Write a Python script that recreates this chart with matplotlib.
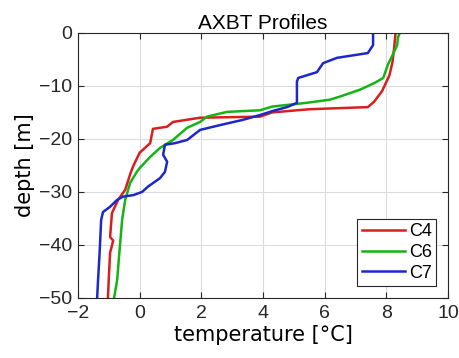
import matplotlib
matplotlib.use("Agg")
import matplotlib.pyplot as plt

plt.rcParams['font.family'] = ['Liberation Sans', 'DejaVu Sans']

# AXBT temperature profiles: (temperature degC, depth m)
c4_temp = [8.3, 8.25, 8.2, 8.1, 7.86, 7.6, 7.4, 5.5, 4.3, 3.9, 1.96, 1.08, 0.89, 0.43,
           0.34, 0.0, -0.2, -0.3, -0.47, -0.7, -0.9, -0.96, -0.86, -0.96, -1.0, -1.03]
c4_depth = [0, -3, -5.5, -8, -11, -13, -14, -14.4, -15, -15.8, -16.0, -16.8, -17.7, -18.1,
            -20.8, -22.6, -25, -26.5, -29.6, -31.5, -34, -38.5, -39.2, -41.5, -46, -50]

c6_temp = [8.44, 8.38, 8.35, 8.2, 8.05, 7.9, 7.63, 7.15, 6.5, 6.17, 5.4, 4.3, 3.9, 2.83,
           2.18, 1.96, 1.54, 1.08, 0.66, 0.34, 0.0, -0.09, -0.31, -0.47, -0.57, -0.66,
           -0.73, -0.83]
c6_depth = [0, -0.8, -2.3, -4.2, -6, -8.5, -9.4, -10.7, -12, -12.6, -13.2, -13.9, -14.6, -14.9,
            -15.8, -16.8, -17.9, -20.2, -21.7, -23.4, -25.5, -26.2, -28.3, -31.5, -35.3,
            -41.5, -46.6, -50]

c7_temp = [7.57, 7.57, 7.4, 6.4, 5.95, 5.75, 5.14, 5.1, 5.1, 4.78, 4.33, 3.9, 3.35, 2.6,
           1.96, 1.54, 1.15, 0.82, 0.76, 0.89, 0.82, 0.66, 0.27, 0.08, -0.2, -0.54, -0.73,
           -0.96, -1.19, -1.25, -1.3, -1.35, -1.38]
c7_depth = [0, -2.3, -3.8, -4.7, -5.7, -7.4, -8.5, -9.2, -13.2, -14, -14.7, -15.5, -16.4, -17.4,
            -18.3, -20.2, -20.8, -21.1, -23, -24.3, -26.2, -27.4, -29, -30, -30.6, -30.9,
            -31.5, -32.8, -33.8, -35.3, -41.5, -46.6, -50]

x_ticks = [-2, 0, 2, 4, 6, 8, 10]
y_ticks = [0, -10, -20, -30, -40, -50]

fig = plt.figure(figsize=(4.59, 3.58), dpi=100)
ax = fig.add_axes([0.170, 0.168, 0.806, 0.740])

ax.plot(c4_temp, c4_depth, color='#d81e1e', lw=1.8, label='C4')
ax.plot(c6_temp, c6_depth, color='#14b414', lw=1.8, label='C6')
ax.plot(c7_temp, c7_depth, color='#1c28c8', lw=1.8, label='C7')

ax.set_xlim(-2, 10)
ax.set_ylim(-50, 0)
ax.set_xticks(x_ticks)
ax.set_yticks(y_ticks)
ax.grid(True, color='#dcdcdc', lw=0.8)
ax.tick_params(direction='in', top=True, right=True, labelsize=14, colors='#262626',
               length=4)
ax.tick_params(axis='x', pad=5)
ax.tick_params(axis='y', pad=4)
for s in ax.spines.values():
    s.set_color('#262626')
    s.set_linewidth(0.8)

ax.set_xlabel('temperature [°C]', fontsize=15, family='DejaVu Sans', labelpad=2)
ax.set_ylabel('depth [m]', fontsize=15, family='DejaVu Sans', labelpad=3)
ax.set_title('AXBT Profiles', fontsize=15, pad=3)

leg = ax.legend(loc='lower right', fontsize=13, fancybox=False, framealpha=1,
                edgecolor='#262626', handlelength=2.4, handletextpad=0.2,
                borderpad=0.25, labelspacing=0.2, borderaxespad=0.65)
leg.get_frame().set_linewidth(0.8)

fig.savefig('out.png', dpi=100)
